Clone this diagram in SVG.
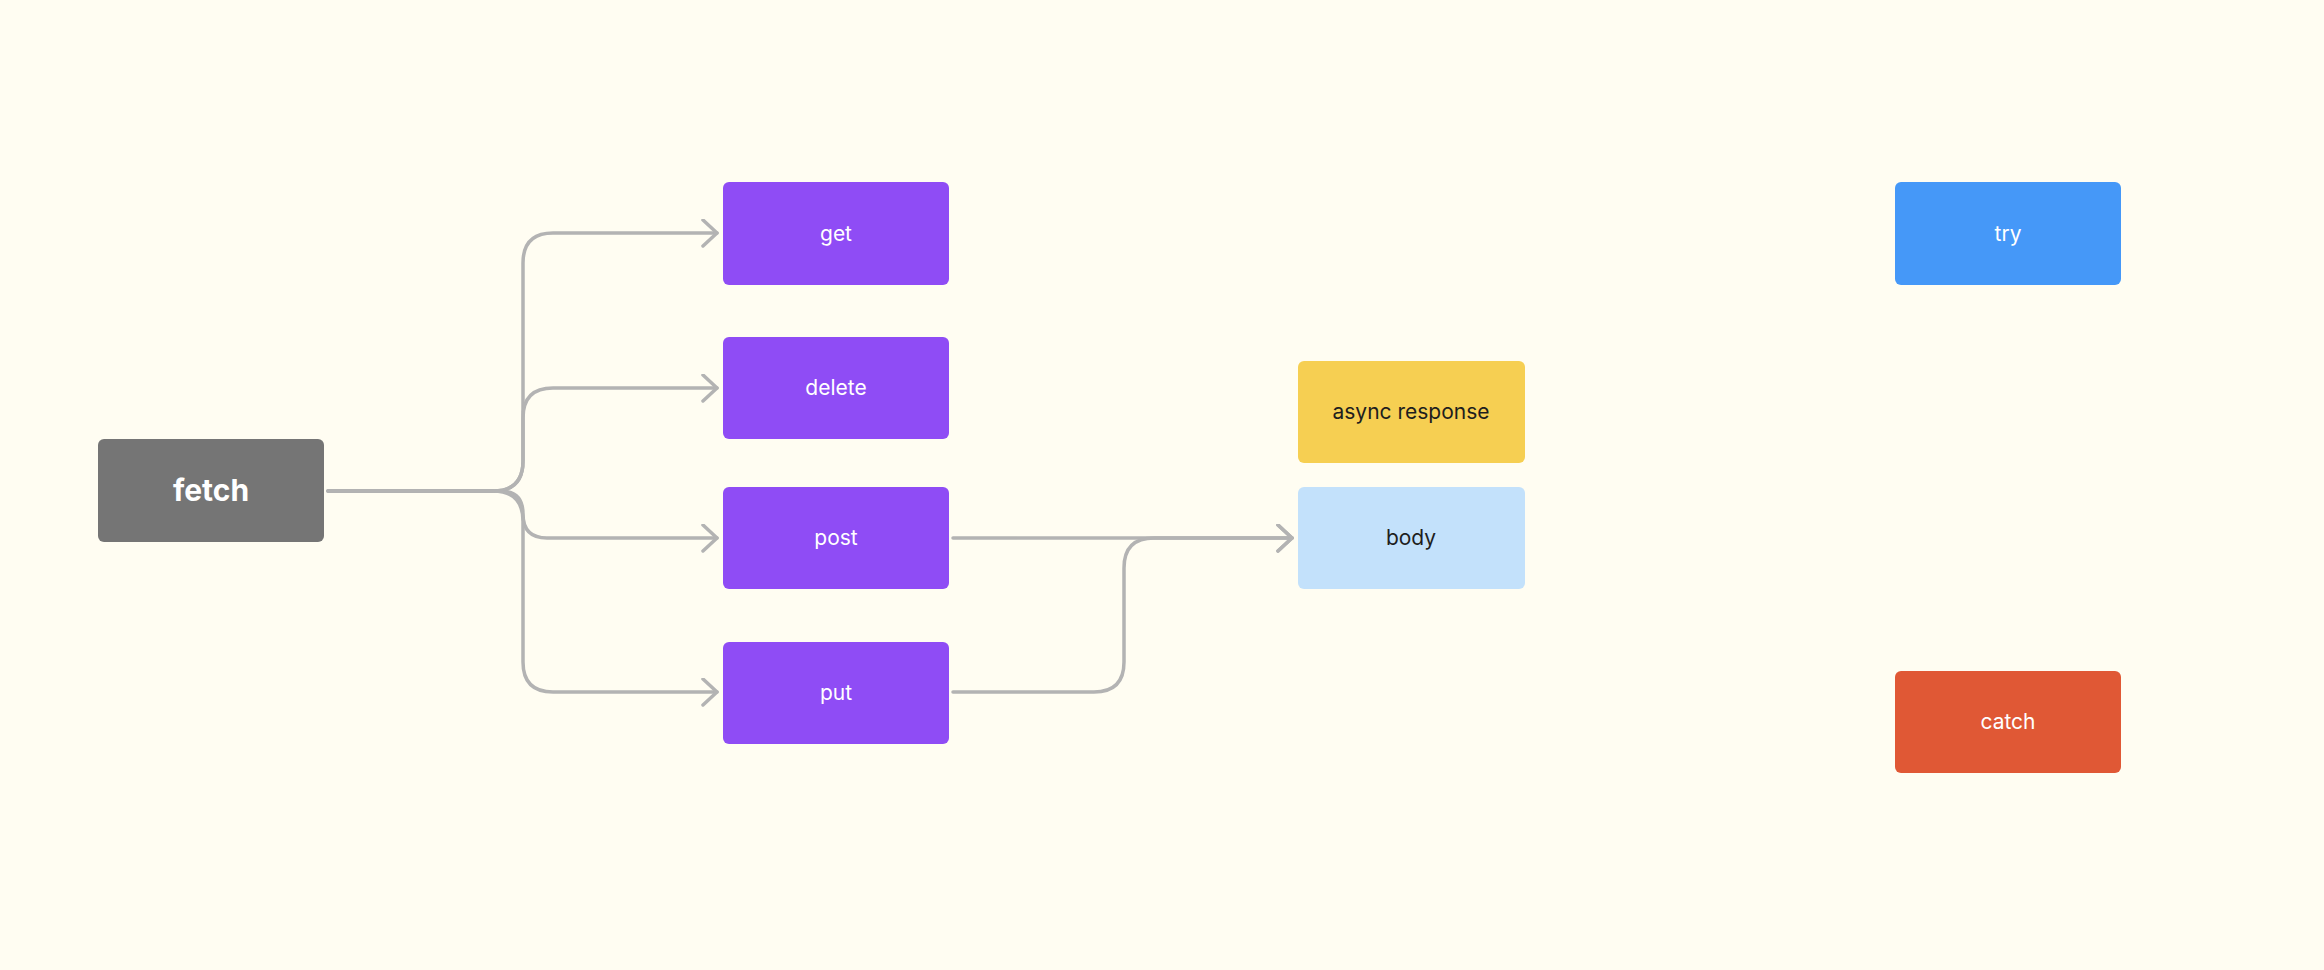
<svg xmlns="http://www.w3.org/2000/svg" width="2324" height="970" viewBox="0 0 2324 970">
  <style>
    .box { stroke: none; }
    .lbl { font-family: Inter, "Noto Sans", "Liberation Sans", sans-serif; font-size: 21px; text-anchor: middle; fill: #FFFFFF; }
    .dark { fill: #1E1E1E; }
    .title { font-size: 30px; font-weight: 700; }
    .wire { fill: none; stroke: #B3B3B3; stroke-width: 3.5; stroke-linecap: round; stroke-linejoin: round; }
  </style>
  <defs>
    <marker id="chev" markerUnits="userSpaceOnUse" markerWidth="24" markerHeight="32" refX="16" refY="14" orient="auto" viewBox="0 0 24 32">
      <path d="M2,1 L16,14 L2,27" fill="none" stroke="#B3B3B3" stroke-width="3.5" stroke-linecap="round" stroke-linejoin="round"/>
    </marker>
  </defs>

  <rect width="2324" height="970" fill="#FFFDF2"/>

  <!-- connectors -->
  <g id="connectors">
    <path class="wire" marker-end="url(#chev)" d="M328,491 H493 Q523,491 523,461 V263 Q523,233 553,233 H717"/>
    <path class="wire" marker-end="url(#chev)" d="M328,491 H493 Q523,491 523,461 V418 Q523,388 553,388 H717"/>
    <path class="wire" marker-end="url(#chev)" d="M328,491 H500 Q523,491 523,514 Q523,538 547,538 H717"/>
    <path class="wire" marker-end="url(#chev)" d="M328,491 H493 Q523,491 523,521 V662 Q523,692 553,692 H717"/>
    <path class="wire" marker-end="url(#chev)" d="M953,538 H1292"/>
    <path class="wire" marker-end="url(#chev)" d="M953,692 H1094 Q1124,692 1124,662 V568 Q1124,538 1154,538 H1292"/>
  </g>

  <g id="node-fetch">
    <rect class="box" x="98" y="439" width="226" height="103" rx="6" fill="#757575"/>
    <text class="lbl title" x="211" y="501">fetch</text>
  </g>
  <g id="node-get">
    <rect class="box" x="723" y="182" width="226" height="103" rx="6" fill="#8F4CF5"/>
    <text class="lbl" x="836" y="241">get</text>
  </g>
  <g id="node-delete">
    <rect class="box" x="723" y="337" width="226" height="102" rx="6" fill="#8F4CF5"/>
    <text class="lbl" x="836" y="395">delete</text>
  </g>
  <g id="node-post">
    <rect class="box" x="723" y="487" width="226" height="102" rx="6" fill="#8F4CF5"/>
    <text class="lbl" x="836" y="545">post</text>
  </g>
  <g id="node-put">
    <rect class="box" x="723" y="642" width="226" height="102" rx="6" fill="#8F4CF5"/>
    <text class="lbl" x="836" y="700">put</text>
  </g>
  <g id="node-async-response">
    <rect class="box" x="1298" y="361" width="227" height="102" rx="6" fill="#F6CF52"/>
    <text class="lbl dark" x="1411" y="419">async response</text>
  </g>
  <g id="node-body">
    <rect class="box" x="1298" y="487" width="227" height="102" rx="6" fill="#C3E1FB"/>
    <text class="lbl dark" x="1411" y="545">body</text>
  </g>
  <g id="node-try">
    <rect class="box" x="1895" y="182" width="226" height="103" rx="6" fill="#4598F8"/>
    <text class="lbl" x="2008" y="241">try</text>
  </g>
  <g id="node-catch">
    <rect class="box" x="1895" y="671" width="226" height="102" rx="6" fill="#E05835"/>
    <text class="lbl" x="2008" y="729">catch</text>
  </g>
</svg>
